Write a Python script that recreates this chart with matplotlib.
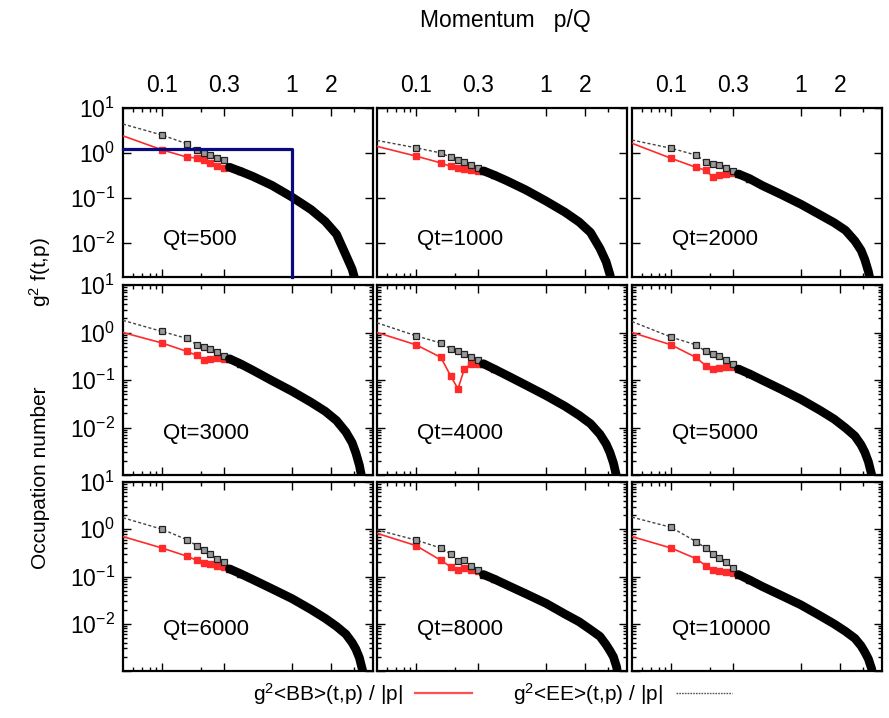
import matplotlib
matplotlib.use("Agg")
import matplotlib.pyplot as plt
from matplotlib.lines import Line2D
from matplotlib.ticker import FixedLocator, FuncFormatter, LogLocator, NullFormatter

plt.rcParams["font.family"] = ["Liberation Sans", "DejaVu Sans"]
plt.rcParams["mathtext.fontset"] = "custom"
plt.rcParams["mathtext.rm"] = "Liberation Sans"
plt.rcParams["mathtext.it"] = "Liberation Sans:italic"
plt.rcParams["axes.unicode_minus"] = False

# ---- data -------------------------------------------------------------
times = ["Qt=500", "Qt=1000", "Qt=2000",
         "Qt=3000", "Qt=4000", "Qt=5000",
         "Qt=6000", "Qt=8000", "Qt=10000"]

# lowest lattice momenta (sparse, individual markers)
p_low = [0.05, 0.1, 0.155, 0.185, 0.21, 0.235, 0.265, 0.3]
# dense hard tail of the spectrum
p_tail = [0.33, 0.4, 0.5, 0.7, 1.0, 1.4, 1.8, 2.2, 2.6, 2.9, 3.1, 3.3, 3.5, 3.7]

# g^2 <EE>/|p| at low momenta
ee_low = [
    [4.4, 2.5, 1.6, 1.15, 1.0, 0.9, 0.77, 0.68],
    [1.9, 1.3, 1.0, 0.8, 0.7, 0.62, 0.53, 0.46],
    [1.94, 1.27, 0.9, 0.64, 0.58, 0.54, 0.46, 0.40],
    [1.8, 1.05, 0.75, 0.55, 0.5, 0.45, 0.38, 0.32],
    [1.6, 0.85, 0.6, 0.45, 0.4, 0.36, 0.3, 0.26],
    [1.7, 0.8, 0.55, 0.4, 0.35, 0.32, 0.27, 0.22],
    [1.75, 1.0, 0.6, 0.45, 0.37, 0.3, 0.24, 0.2],
    [0.97, 0.59, 0.40, 0.3, 0.21, 0.22, 0.17, 0.14],
    [1.8, 1.1, 0.55, 0.4, 0.3, 0.25, 0.2, 0.15],
]
# g^2 <BB>/|p| at low momenta
bb_low = [
    [2.4, 1.17, 0.81, 0.77, 0.69, 0.6, 0.52, 0.46],
    [1.4, 0.85, 0.6, 0.5, 0.46, 0.43, 0.41, 0.39],
    [1.64, 0.76, 0.48, 0.41, 0.29, 0.32, 0.34, 0.35],
    [1.0, 0.6, 0.4, 0.33, 0.27, 0.28, 0.29, 0.28],
    [1.0, 0.55, 0.3, 0.12, 0.065, 0.17, 0.22, 0.22],
    [1.0, 0.55, 0.3, 0.2, 0.17, 0.18, 0.19, 0.19],
    [0.7, 0.4, 0.27, 0.22, 0.19, 0.18, 0.17, 0.16],
    [0.82, 0.45, 0.22, 0.16, 0.138, 0.15, 0.14, 0.13],
    [0.7, 0.4, 0.24, 0.17, 0.14, 0.13, 0.125, 0.12],
]
# common tail of both correlators
tail = [
    [0.48, 0.39, 0.30, 0.19, 0.104, 0.055, 0.03, 0.0155, 0.0053, 0.0026, 0.0013, 0.0006, 0.0002, 0.0001],
    [0.40, 0.32, 0.24, 0.15, 0.085, 0.048, 0.029, 0.017, 0.0075, 0.0038, 0.002, 0.0009, 0.0003, 0.0001],
    [0.34, 0.27, 0.19, 0.12, 0.072, 0.042, 0.028, 0.019, 0.011, 0.0068, 0.0042, 0.0023, 0.001, 0.0003],
    [0.28, 0.22, 0.16, 0.097, 0.058, 0.034, 0.022, 0.014, 0.008, 0.0048, 0.0029, 0.0016, 0.0007, 0.0002],
    [0.22, 0.17, 0.125, 0.078, 0.047, 0.028, 0.018, 0.012, 0.0072, 0.0045, 0.003, 0.0018, 0.0009, 0.0003],
    [0.17, 0.135, 0.1, 0.064, 0.039, 0.023, 0.015, 0.0098, 0.0066, 0.0043, 0.003, 0.0019, 0.001, 0.0003],
    [0.145, 0.115, 0.086, 0.055, 0.034, 0.02, 0.013, 0.0088, 0.006, 0.004, 0.0029, 0.0019, 0.001, 0.0003],
    [0.11, 0.088, 0.066, 0.043, 0.027, 0.016, 0.011, 0.0075, 0.0054, 0.0036, 0.0027, 0.002, 0.0012, 0.0003],
    [0.11, 0.085, 0.062, 0.04, 0.025, 0.0148, 0.0099, 0.0069, 0.0049, 0.0034, 0.0025, 0.0018, 0.0011, 0.0003],
]

# initial condition f = n0 * theta(Q - p)
box_n0 = 1.25
box_pmax = 1.0

x_major = [0.1, 0.3, 1, 2]
x_major_labels = ["0.1", "0.3", "1", "2"]
x_minor = [0.06, 0.07, 0.08, 0.09, 0.2, 3]
y_major = [1e-3, 1e-2, 1e-1, 1e0, 1e1]
y_labels = {1e1: "10$^{1}$", 1e0: "10$^{0}$", 1e-1: "10$^{-1}$", 1e-2: "10$^{-2}$"}


def x_label(v, pos):
    for key, lab in zip(x_major, x_major_labels):
        if abs(v - key) / key < 1e-6:
            return lab
    return ""


def y_label(v, pos):
    for key, lab in y_labels.items():
        if abs(v - key) / key < 1e-6:
            return lab
    return ""


# ---- layout -----------------------------------------------------------
W, H = 889, 718
fig = plt.figure(figsize=(W / 100, H / 100), dpi=100)
col_left = [123, 377, 632]
col_w = 250
row_span = [(108, 277), (285, 475), (482, 671)]
row_ymin = [10 ** -2.76, 1e-3, 1e-3]

RED = "#ff2a2a"
EE_LINE = "#444444"
FS = 16
TICK_FS = 16.5

for k in range(9):
    r, c = divmod(k, 3)
    top, bot = row_span[r]
    ax = fig.add_axes([col_left[c] / W, 1 - bot / H, col_w / W, (bot - top) / H])
    ax.set_xscale("log")
    ax.set_yscale("log")
    ax.set_xlim(0.05, 4.2)
    ax.set_ylim(row_ymin[r], 10)

    p = p_low + p_tail
    ee = ee_low[k] + tail[k]
    bb = bb_low[k] + tail[k]
    n = len(p_low)

    ax.plot(p, bb, color=RED, lw=1.2, marker="s", ms=4.2, mfc=RED, mec=RED,
            markevery=list(range(1, n + 2)), zorder=3)
    ax.plot(p, ee, color=EE_LINE, lw=1.0, dashes=(2.2, 1.6), marker="s", ms=5,
            mfc="#9a9a9a", mec="#222222", mew=0.9,
            markevery=list(range(1, n + 2)), zorder=4)
    # dense markers of the hard tail merge into a thick band
    ax.plot(p_tail, tail[k], color="black", lw=6.3, solid_capstyle="round", zorder=5)

    if k == 0:
        ax.plot([0.05, box_pmax, box_pmax], [box_n0, box_n0, row_ymin[r]],
                color="#0a0a80", lw=2.3, zorder=6, clip_on=False)

    ax.text(0.16, 0.22, times[k], transform=ax.transAxes, fontsize=FS,
            ha="left", va="center")

    for s in ax.spines.values():
        s.set_linewidth(1.6)

    ax.xaxis.set_major_locator(FixedLocator(x_major))
    ax.xaxis.set_minor_locator(FixedLocator(x_minor))
    ax.xaxis.set_minor_formatter(NullFormatter())
    ax.yaxis.set_major_locator(FixedLocator(y_major))
    ax.yaxis.set_minor_locator(LogLocator(base=10, subs=range(2, 10)))
    ax.yaxis.set_minor_formatter(NullFormatter())
    ax.tick_params(which="both", direction="in", top=True, right=True,
                   labelsize=TICK_FS, width=1.0)
    ax.tick_params(which="major", length=6)
    ax.tick_params(which="minor", length=3)

    if r == 0:
        ax.xaxis.set_major_formatter(FuncFormatter(x_label))
        ax.tick_params(axis="x", labeltop=True, labelbottom=False, pad=8)
    else:
        ax.tick_params(axis="x", labeltop=False, labelbottom=False)

    if c == 0:
        ax.yaxis.set_major_formatter(FuncFormatter(y_label))
        ax.tick_params(axis="y", pad=6)
    else:
        ax.tick_params(axis="y", labelleft=False)

fig.text(0.568, 0.972, "Momentum   p/Q", fontsize=16.5, ha="center", va="center")
fig.text(0.045, 1 - 478 / H, "Occupation number", fontsize=15,
         rotation=90, ha="center", va="center")
fig.text(0.045, 1 - 272 / H, "g$^2$ f(t,p)", fontsize=15,
         rotation=90, ha="center", va="center")

handles = [Line2D([], [], color="#ff5050", lw=1.6),
           Line2D([], [], color="#555555", lw=1.0, dashes=(1.2, 0.8))]
labels = ["g$^2$<BB>(t,p) / |p|", "g$^2$<EE>(t,p) / |p|"]
fig.legend(handles, labels, ncol=2, markerfirst=False, frameon=False,
           fontsize=15, loc="center", bbox_to_anchor=(0.554, 0.034),
           handlelength=2.7, handletextpad=0.6, columnspacing=2.0)

fig.savefig("out.png", dpi=100)
